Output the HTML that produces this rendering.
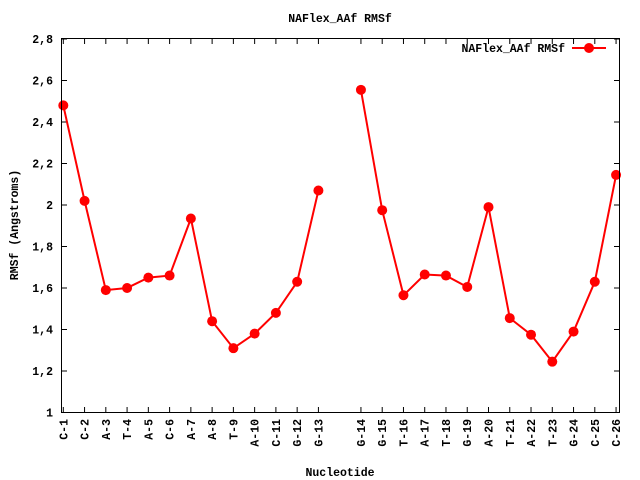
<!DOCTYPE html>
<html><head><style>body{margin:0;background:#fff}svg{display:block}text{font-family:"Liberation Mono",monospace;font-weight:bold;font-size:11.5px;fill:#000}</style></head>
<body>
<svg width="640" height="480" xmlns="http://www.w3.org/2000/svg" id="s">
<rect width="640" height="480" fill="#fff"/>
<text x="340" y="22" text-anchor="middle">NAFlex_AAf RMSf</text>
<text x="340" y="476" text-anchor="middle">Nucleotide</text>
<text transform="translate(18,225) rotate(-90)" text-anchor="middle">RMSf (Angstroms)</text>
<g id="g"></g>
<rect x="61.5" y="38.5" width="558" height="374" fill="none" stroke="#000" stroke-width="1"/>
<text x="565" y="52" text-anchor="end">NAFlex_AAf RMSf</text>
<line x1="572" y1="48" x2="606" y2="48" stroke="#f00" stroke-width="2"/>
<circle cx="589" cy="48" r="5" fill="#f00"/>
</svg>
<script>
var ns="http://www.w3.org/2000/svg",g=document.getElementById("g");
function el(t,a,txt){var e=document.createElementNS(ns,t);for(var k in a)e.setAttribute(k,a[k]);if(txt)e.textContent=txt;g.appendChild(e);return e;}
function Y(v){return 412.5-(v-1)/0.2*41.5;}
for(var i=0;i<=9;i++){var v=1+i*0.2,y=Y(v);el("line",{x1:61.5,y1:y,x2:67,y2:y,stroke:"#000"});el("line",{x1:619.5,y1:y,x2:614,y2:y,stroke:"#000"});
var s=(Math.round(v*10)/10).toString().replace(".",",");el("text",{x:53,y:y+4,"text-anchor":"end"},s);}
var names=["C-1","C-2","A-3","T-4","A-5","C-6","A-7","A-8","T-9","A-10","C-11","G-12","G-13","G-14","G-15","T-16","A-17","T-18","G-19","A-20","T-21","A-22","T-23","G-24","C-25","C-26"];
var vals=[2.48,2.02,1.59,1.60,1.65,1.66,1.935,1.44,1.31,1.38,1.48,1.63,2.07,2.555,1.975,1.565,1.665,1.66,1.605,1.99,1.455,1.375,1.245,1.39,1.63,2.145];
var pts=[];
for(var j=0;j<26;j++){var idx=j<13?j:j+1;var x=63.3+idx*21.26;pts.push([x,Y(vals[j])]);
el("line",{x1:x,y1:412.5,x2:x,y2:407,stroke:"#000"});el("line",{x1:x,y1:38.5,x2:x,y2:44,stroke:"#000"});
el("text",{transform:"translate("+(x+4)+",419) rotate(-90)","text-anchor":"end"},names[j]);}
function path(a){return "M"+a.map(function(p){return p[0].toFixed(1)+","+p[1].toFixed(1)}).join("L");}
el("path",{d:path(pts.slice(0,13)),fill:"none",stroke:"#f00","stroke-width":2});
el("path",{d:path(pts.slice(13)),fill:"none",stroke:"#f00","stroke-width":2});
pts.forEach(function(p){el("circle",{cx:p[0],cy:p[1],r:5,fill:"#f00"});});
</script>
</body></html>
